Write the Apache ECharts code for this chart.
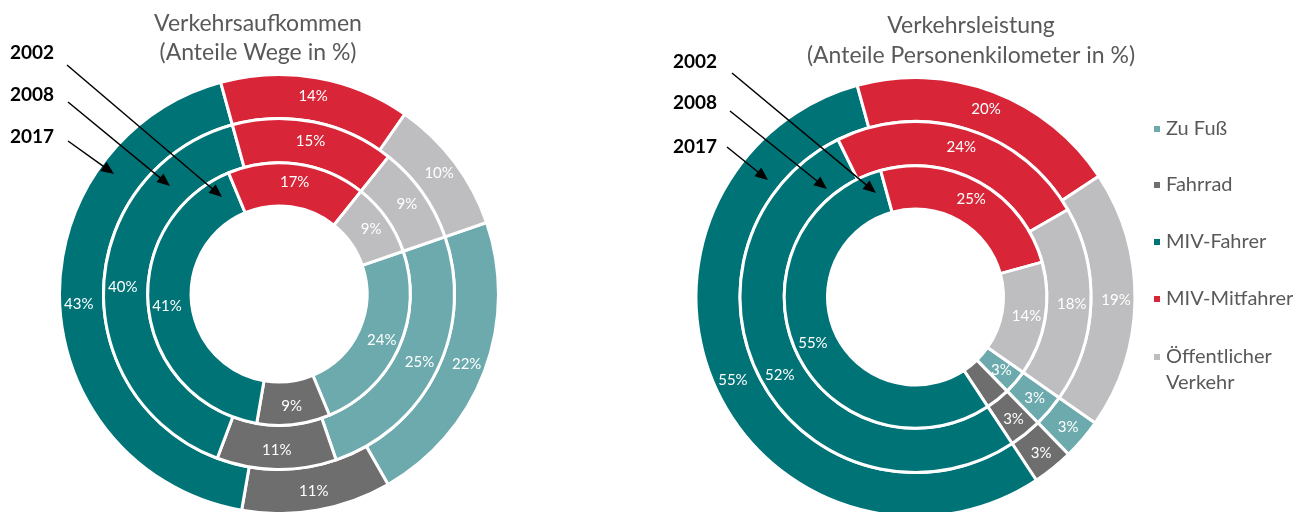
<!DOCTYPE html>
<html>
<head>
<meta charset="utf-8">
<script src="https://cdn.jsdelivr.net/npm/echarts@6/dist/echarts.min.js"></script>
<style>
html,body{margin:0;padding:0;background:#fff;}
#main{width:1312px;height:512px;}
</style>
</head>
<body>
<div id="main"></div>
<script>
// ---- data ----
const categories = ['Zu Fuß', 'Fahrrad', 'MIV-Fahrer', 'MIV-Mitfahrer', 'Öffentlicher Verkehr'];
const years = ['2002', '2008', '2017'];
// Verkehrsaufkommen (Anteile Wege in %)
const wege2002 = [22, 11, 43, 14, 10];
const wege2008 = [25, 11, 40, 15, 9];
const wege2017 = [24, 9, 41, 17, 9];
// Verkehrsleistung (Anteile Personenkilometer in %)
const pkm2002 = [3, 3, 55, 20, 19];
const pkm2008 = [3, 3, 52, 24, 18];
const pkm2017 = [3, 3, 55, 25, 14];
const titleLeft = ['Verkehrsaufkommen', '(Anteile Wege in %)'];
const titleRight = ['Verkehrsleistung', '(Anteile Personenkilometer in %)'];

// ---- styles ----
const colors = ['#6DAAAE', '#6E6E6E', '#007377', '#D82638', '#BEBEC0'];
const FONT = 'Lato, "Open Sans", sans-serif';
const centerL = [279, 294];
const centerR = [915.5, 297];
const rings = [[175.5, 219.5], [131.3, 175.5], [88, 131.3]];

function ring(name, values, center, radius, startAngle) {
  return {
    type: 'pie',
    name: name,
    center: center,
    radius: radius,
    startAngle: startAngle,
    clockwise: true,
    silent: true,
    z: 2,
    emphasis: { disabled: true },
    label: {
      show: true,
      position: 'inside',
      formatter: '{c}%',
      color: '#ffffff',
      fontFamily: FONT,
      fontSize: 15
    },
    labelLine: { show: false },
    itemStyle: { borderColor: '#ffffff', borderWidth: 3 },
    data: categories.map((c, i) => ({ name: c, value: values[i], itemStyle: { color: colors[i] } }))
  };
}

const series = [
  ring('Wege ' + years[0], wege2002, centerL, rings[0], 19),
  ring('Wege ' + years[1], wege2008, centerL, rings[1], 19),
  ring('Wege ' + years[2], wege2017, centerL, rings[2], 19),
  ring('Pkm ' + years[0], pkm2002, centerR, rings[0], -35),
  ring('Pkm ' + years[1], pkm2008, centerR, rings[1], -35),
  ring('Pkm ' + years[2], pkm2017, centerR, rings[2], -35)
];

// legends, one per item for exact placement
const legendY = [130, 186, 243, 300, 357];
const legends = categories.map((c, i) => {
  const multi = c === 'Öffentlicher Verkehr';
  return {
    show: true,
    orient: 'vertical',
    left: 1152,
    top: multi ? legendY[i] - 13 : legendY[i] - 11,
    padding: 0,
    icon: multi ? 'path://M0,0h8v8h-8z M0,33.99h0.01v0.01h-0.01z' : 'rect',
    itemWidth: 8,
    itemHeight: multi ? 34 : 8,
    selectedMode: false,
    formatter: n => n === 'Öffentlicher Verkehr' ? 'Öffentlicher\nVerkehr' : n,
    textStyle: multi
      ? { color: '#595959', fontFamily: FONT, fontSize: 20, lineHeight: 26 }
      : { color: '#595959', fontFamily: FONT, fontSize: 20 },
    data: [c]
  };
});

// annotation graphics
const graphics = [];
function addText(text, x, y, opts) {
  graphics.push({
    type: 'text', x: x, y: y, silent: true, z: 100,
    style: Object.assign({ text: text, fontFamily: FONT, verticalAlign: 'middle' }, opts)
  });
}
function addArrow(x1, y1, x2, y2) {
  const dx = x2 - x1, dy = y2 - y1, len = Math.sqrt(dx * dx + dy * dy);
  const ux = dx / len, uy = dy / len, px = -uy, py = ux;
  const hl = 13, hw = 5.5;
  graphics.push({
    type: 'line', silent: true, z: 100,
    shape: { x1: x1, y1: y1, x2: x2 - ux * hl * 0.8, y2: y2 - uy * hl * 0.8 },
    style: { stroke: '#000', lineWidth: 1.5 }
  });
  graphics.push({
    type: 'polygon', silent: true, z: 100,
    shape: { points: [[x2, y2], [x2 - ux * hl + px * hw, y2 - uy * hl + py * hw], [x2 - ux * hl - px * hw, y2 - uy * hl - py * hw]] },
    style: { fill: '#000' }
  });
}

// titles
addText(titleLeft[0], 258, 24, { fill: '#595959', fontSize: 23, align: 'center' });
addText(titleLeft[1], 258, 53, { fill: '#595959', fontSize: 23, align: 'center' });
addText(titleRight[0], 971, 26, { fill: '#595959', fontSize: 23, align: 'center' });
addText(titleRight[1], 971, 56, { fill: '#595959', fontSize: 23, align: 'center' });

// year labels + arrows
const yearYL = [53, 95, 137];
const yearYR = [62, 103, 147];
years.forEach((y, i) => {
  addText(y, 10, yearYL[i], { fill: '#000', fontSize: 19, fontWeight: 'bold', align: 'left' });
  addText(y, 673, yearYR[i], { fill: '#000', fontSize: 19, fontWeight: 'bold', align: 'left' });
});
addArrow(67, 65, 222, 197);
addArrow(68, 102, 170, 186);
addArrow(68, 141, 114, 174);
addArrow(732, 73, 876, 193);
addArrow(730, 111, 827, 189);
addArrow(727, 147, 768, 180);

const chart = echarts.init(document.getElementById('main'), null, { renderer: 'canvas' });
chart.setOption({
  animation: false,
  backgroundColor: '#ffffff',
  legend: legends,
  series: series,
  graphic: { elements: graphics }
});
</script>
</body>
</html>
